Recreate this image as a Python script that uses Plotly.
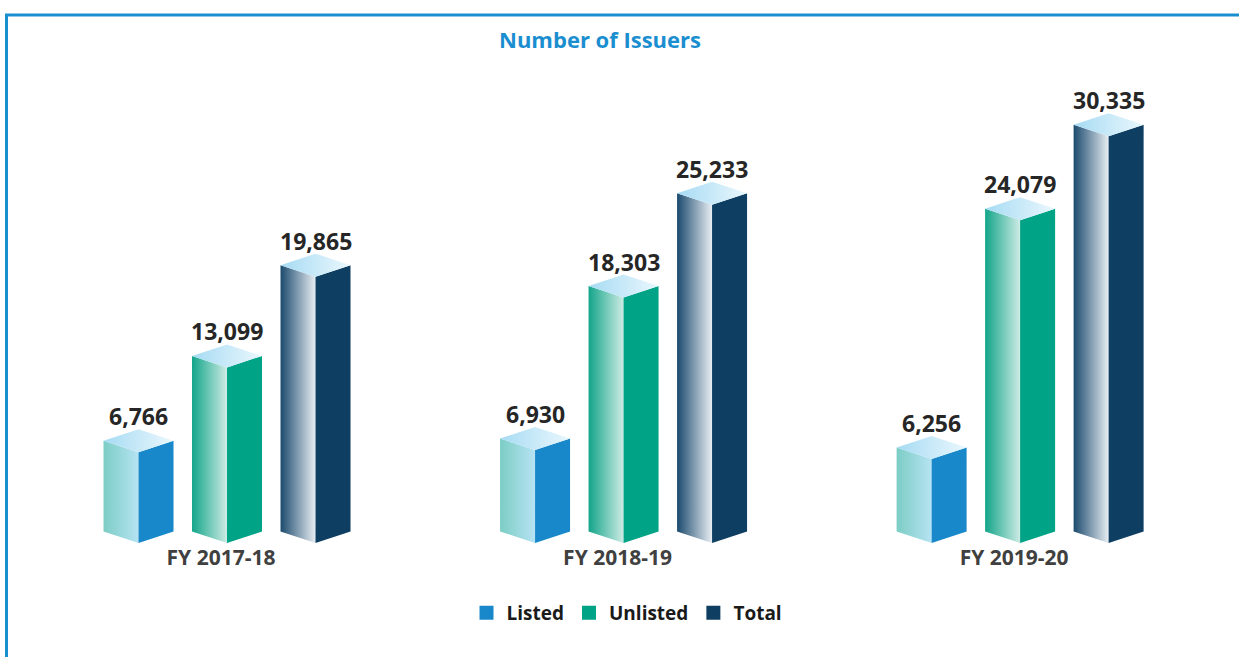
import plotly.graph_objects as go

# ---- data ----
categories = ["FY 2017-18", "FY 2018-19", "FY 2019-20"]
series_names = ["Listed", "Unlisted", "Total"]
listed = [6766, 6930, 6256]
unlisted = [13099, 18303, 24079]
total = [19865, 25233, 30335]
series_values = [listed, unlisted, total]

# ---- styles ----
FRONT_COLORS = ["#1888cb", "#00a386", "#0e3f62"]
SIDE_GRADIENTS = [
    ["#7ccdc5", "#b6e3f3"],
    ["#13a589", "#cdebe5"],
    ["#1b4a6e", "#e8eef3"],
]
TOP_GRADIENT = ["#a6dbf3", "#eaf7fd"]
FONT = "Open Sans"

FIG_W, FIG_H = 1239, 657
MARGIN_B = 114
PLOT_H = FIG_H - MARGIN_B
Y_MAX = 40500
X_RANGE = [-0.5725, 2.552]
px_x = (X_RANGE[1] - X_RANGE[0]) / FIG_W   # x units per pixel
px_y = Y_MAX / PLOT_H                       # y units per pixel

HALF_W = 35 * px_x
OFFSET = 88.5 * px_x
DEPTH = 11.5 * px_y

fig = go.Figure()

for s, (name, vals) in enumerate(zip(series_names, series_values)):
    for g, v in enumerate(vals):
        c = g + (s - 1) * OFFSET
        # left (gradient) face
        fig.add_trace(go.Scatter(
            x=[c, c - HALF_W, c - HALF_W, c, c],
            y=[0, DEPTH, v + DEPTH, v, 0],
            mode="lines", line=dict(width=0), fill="toself",
            fillgradient=dict(type="horizontal",
                              colorscale=[[0, SIDE_GRADIENTS[s][0]], [1, SIDE_GRADIENTS[s][1]]]),
            hoverinfo="skip", showlegend=False))
        # right (solid) face
        fig.add_trace(go.Scatter(
            x=[c, c + HALF_W, c + HALF_W, c, c],
            y=[0, DEPTH, v + DEPTH, v, 0],
            mode="lines", line=dict(width=0), fill="toself",
            fillcolor=FRONT_COLORS[s],
            hoverinfo="skip", showlegend=False))
        # top face
        fig.add_trace(go.Scatter(
            x=[c, c - HALF_W, c, c + HALF_W, c],
            y=[v, v + DEPTH, v + 2 * DEPTH, v + DEPTH, v],
            mode="lines", line=dict(width=0), fill="toself",
            fillgradient=dict(type="horizontal",
                              colorscale=[[0, TOP_GRADIENT[0]], [1, TOP_GRADIENT[1]]]),
            hoverinfo="skip", showlegend=False))
        fig.add_annotation(x=c, y=v + 2 * DEPTH, text=f"<b>{v:,}</b>",
                           showarrow=False, yanchor="bottom", yshift=-5,
                           font=dict(family=FONT, size=23, color="#262626"))

# legend entries
for s, name in enumerate(series_names):
    fig.add_trace(go.Scatter(
        x=[None], y=[None], mode="markers", name=f"<b>{name}</b>",
        marker=dict(symbol="square", size=14, color=FRONT_COLORS[s])))

border_x = 6.5 / FIG_W
border_top = (PLOT_H - 15) / PLOT_H
border_bot = -MARGIN_B / PLOT_H
fig.add_shape(type="path", xref="paper", yref="paper",
              path=f"M {border_x} {border_bot} L {border_x} {border_top} L 1.01 {border_top}",
              line=dict(color="#1a8fd0", width=3))

fig.update_layout(
    width=FIG_W, height=FIG_H,
    margin=dict(l=0, r=0, t=0, b=MARGIN_B),
    paper_bgcolor="white", plot_bgcolor="white",
    title=dict(text="<b>Number of Issuers</b>", x=600 / FIG_W, xanchor="center",
               y=1 - 40 / FIG_H, yanchor="middle", xref="paper",
               font=dict(family=FONT, size=22, color="#1b8ed0")),
    xaxis=dict(range=X_RANGE, tickvals=[0, 1, 2],
               ticktext=[f"<b>{c}</b>" for c in categories],
               showgrid=False, zeroline=False, showline=False, ticks="",
               ticklabelshift=-6,
               tickfont=dict(family=FONT, size=21, color="#404040"),
               fixedrange=True),
    yaxis=dict(range=[0, Y_MAX], visible=False, fixedrange=True),
    legend=dict(orientation="h", x=627 / FIG_W, xanchor="center",
                y=(PLOT_H - 613) / PLOT_H, yanchor="middle",
                font=dict(family=FONT, size=19, color="#1a1a1a"),
                itemwidth=30, bgcolor="rgba(0,0,0,0)"),
    showlegend=True,
)

fig.write_html("out.html", config={"displayModeBar": False},
               post_script="document.body.style.margin='0';")
